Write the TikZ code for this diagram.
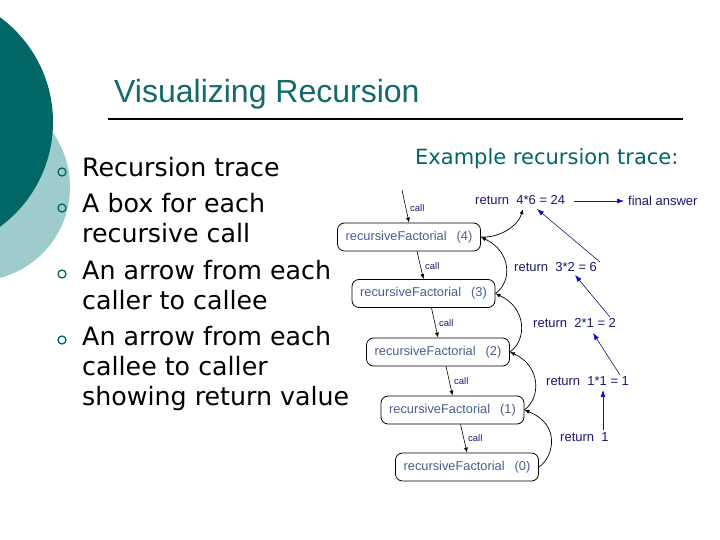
\documentclass[tikz,border=0pt]{standalone}
\usepackage{fontspec}
\setmainfont{Liberation Sans}
\newfontfamily\verd{DejaVu Sans}
\usetikzlibrary{arrows.meta,calc}
\definecolor{darkteal}{RGB}{0,102,102}
\definecolor{lightteal}{RGB}{158,203,203}
\definecolor{titleteal}{RGB}{20,106,106}
\definecolor{boxtext}{RGB}{74,94,140}
\definecolor{navy}{RGB}{25,25,110}
\definecolor{headblue}{RGB}{10,10,200}
\begin{document}
\begin{tikzpicture}[x=1pt,y=-1pt,
 fbox/.style={draw,rounded corners=7pt,minimum width=143pt,minimum height=28pt,inner sep=0pt,line width=0.8pt,text=boxtext,font=\fontsize{12.8}{14}\selectfont},
 calllbl/.style={anchor=west,text=navy,font=\fontsize{9.5}{11}\selectfont,inner sep=0pt},
 retlbl/.style={anchor=west,text=navy,font=\fontsize{13}{15}\selectfont,inner sep=0pt},
 callarrow/.style={-{Latex[length=5pt,width=4pt]},line width=0.6pt},
 retarrow/.style={-{Latex[length=5pt,width=4pt]},line width=0.7pt},
 bluearrow/.style={-{Latex[length=7pt,width=5pt,color=headblue]},line width=0.6pt,draw=navy},
 bullettext/.style={anchor=base west,inner sep=0pt,font=\verd\fontsize{25.3}{30}\selectfont},
 bulletmark/.style={draw=darkteal,line width=1.3pt,circle,minimum size=8pt,inner sep=0pt}
]
\useasboundingbox (0,0) rectangle (720,540);
\fill[white] (0,0) rectangle (720,540);
\fill[lightteal] (-24,187) circle[radius=94pt];
\fill[darkteal] (-77,122) circle[radius=130pt];

% title
\node[anchor=base west,inner sep=0pt,text=titleteal,font=\fontsize{32}{36}\selectfont] (title) at (114,103) {Visualizing Recursion};
\draw[line width=1.8pt] (108,119) -- (683,119);

% bullets
\node[bulletmark] (m1) at (62,172) {};
\node[bulletmark] (m2) at (62,208) {};
\node[bulletmark] (m3) at (62,274) {};
\node[bulletmark] (m4) at (62,340) {};
\node[bullettext] (t1) at (82,177) {Recursion trace};
\node[bullettext] (t2) at (82,213) {A box for each};
\node[bullettext] (t3) at (82,243) {recursive call};
\node[bullettext] (t4) at (82,279) {An arrow from each};
\node[bullettext] (t5) at (82,309) {caller to callee};
\node[bullettext] (t6) at (82,345) {An arrow from each};
\node[bullettext] (t7) at (82,375) {callee to caller};
\node[bullettext] (t8) at (82,405) {showing return value};

\node[anchor=base west,inner sep=0pt,text=darkteal,font=\verd\fontsize{21}{24}\selectfont] (ex) at (415,165) {Example recursion trace:};

% boxes
\node[fbox] (b4) at (409,237) {recursiveFactorial\hspace{10pt}(4)};
\node[fbox] (b3) at (423.5,293.5) {recursiveFactorial\hspace{10pt}(3)};
\node[fbox] (b2) at (438,352) {recursiveFactorial\hspace{10pt}(2)};
\node[fbox] (b1) at (452.5,410) {recursiveFactorial\hspace{10pt}(1)};
\node[fbox] (b0) at (467,467) {recursiveFactorial\hspace{10pt}(0)};

% call arrows
\coordinate (start) at (402,190);
\draw[callarrow] (start) -- (b4.north);
\draw[callarrow] ([xshift=8pt]b4.south) -- (b3.north);
\draw[callarrow] ([xshift=8pt]b3.south) -- (b2.north);
\draw[callarrow] ([xshift=8pt]b2.south) -- (b1.north);
\draw[callarrow] ([xshift=8pt]b1.south) -- (b0.north);
\node[calllbl] (c4) at (410,208) {call};
\node[calllbl] (c3) at (425,266) {call};
\node[calllbl] (c2) at (439,323) {call};
\node[calllbl] (c1) at (454,381) {call};
\node[calllbl] (c0) at (468,438) {call};

% return labels
\node[retlbl] (r4) at (475,200) {return\ \ 4*6 = 24};
\node[retlbl] (fa) at (628,201) {final answer};
\node[retlbl] (r3) at (514,267) {return\ \ 3*2 = 6};
\node[retlbl] (r2) at (533,323) {return\ \ 2*1 = 2};
\node[retlbl] (r1) at (546,381) {return\ \ 1*1 = 1};
\node[retlbl] (r0) at (560,437) {return\ \ 1};

% return arcs
\coordinate (r4in) at (523,209);
\draw[retarrow] (b0.east) .. controls (553,458) and (562,425) .. (b1.east);
\draw[retarrow] (b1.east) .. controls (541,398) and (541,366) .. (b2.east);
\draw[retarrow] (b2.east) .. controls (527,340) and (527,308) .. (b3.east);
\draw[retarrow] (b3.east) .. controls (512,282) and (512,252) .. (b4.east);
\draw[retarrow] (b4.east) .. controls (500,238) and (518,226) .. (r4in);

% blue arrows
\coordinate (a4s) at (574,201);
\coordinate (a4e) at (624,201);
\coordinate (a3s) at (600,262);
\coordinate (a3e) at (537,209);
\coordinate (a2s) at (610,317);
\coordinate (a2e) at (575,275);
\coordinate (a1s) at (620,375);
\coordinate (a1e) at (593,333);
\coordinate (a0s) at (603,430);
\coordinate (a0e) at (603,390);
\draw[bluearrow] (a4s) -- (a4e);
\draw[bluearrow] (a3s) -- (a3e);
\draw[bluearrow] (a2s) -- (a2e);
\draw[bluearrow] (a1s) -- (a1e);
\draw[bluearrow] (a0s) -- (a0e);
\end{tikzpicture}
\end{document}
